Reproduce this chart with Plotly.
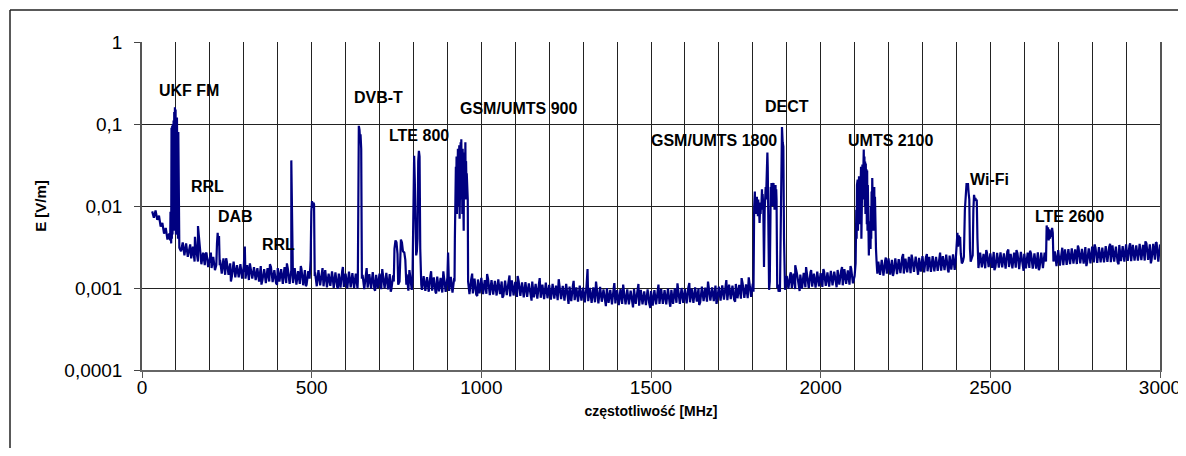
import plotly.graph_objects as go

# ---------------- DATA ----------------
# Noise floor envelope, in mV/m.
# upper edge sampled at 30, 40, ... 3000 MHz; lower edge at 35, 45, ... 2995 MHz
floor_top_mvm = [
    8.6, 8.8, 7.6, 6.2, 5.4, 4.6, 4.2, 4.0, 4.0, 3.6,
    3.5, 3.3, 3.2, 2.9, 2.9, 2.7, 2.7, 2.5, 2.4, 2.3,
    2.2, 2.3, 2.1, 2.0, 2.1, 1.9, 1.95, 1.85, 1.9, 1.8,
    1.8, 1.75, 1.85, 1.7, 1.75, 1.8, 1.65, 1.75, 1.7, 1.8,
    1.7, 1.65, 1.75, 1.6, 1.7, 1.65, 1.6, 1.7, 1.55, 1.65,
    1.55, 1.65, 1.5, 1.6, 1.55, 1.5, 1.62, 1.5, 1.58, 1.52,
    1.5, 1.55, 1.45, 1.52, 1.48, 1.56, 1.45, 1.5, 1.47, 1.53,
    1.48, 1.42, 1.5, 1.45, 1.4, 1.47, 1.43, 1.46, 1.4, 1.45,
    1.4, 1.36, 1.42, 1.35, 1.38, 1.33, 1.4, 1.35, 1.37, 1.32,
    1.3, 1.35, 1.28, 1.32, 1.26, 1.3, 1.27, 1.33, 1.25, 1.28,
    1.25, 1.22, 1.27, 1.2, 1.23, 1.18, 1.24, 1.19, 1.21, 1.17,
    1.18, 1.14, 1.2, 1.12, 1.15, 1.1, 1.16, 1.09, 1.12, 1.07,
    1.1, 1.06, 1.12, 1.04, 1.08, 1.02, 1.07, 1.01, 1.05, 1.0,
    1.02, 0.98, 1.03, 0.96, 1.0, 0.95, 0.99, 0.94, 0.97, 0.93,
    0.96, 0.93, 0.97, 0.92, 0.95, 0.91, 0.96, 0.92, 0.94, 0.95,
    0.97, 0.94, 0.98, 0.95, 0.99, 0.96, 1.0, 0.97, 1.01, 0.98,
    1.02, 0.99, 1.04, 1.01, 1.05, 1.02, 1.07, 1.04, 1.08, 1.06,
    1.1, 1.07, 1.12, 1.09, 1.14, 1.11, 1.16, 1.13, 1.17, 1.15,
    1.3, 1.3, 1.3, 1.3, 1.3, 1.3, 1.3, 1.4, 1.45, 1.5,
    1.5, 1.46, 1.53, 1.48, 1.56, 1.5, 1.58, 1.52, 1.6, 1.55,
    1.62, 1.58, 1.66, 1.6, 1.7, 1.64, 1.72, 1.7, 1.75, 1.75,
    2.0, 2.0, 2.0, 2.0, 2.1, 2.2, 2.15, 2.3, 2.2, 2.3,
    2.25, 2.35, 2.28, 2.4, 2.3, 2.42, 2.33, 2.45, 2.36, 2.4,
    2.45, 2.4, 2.5, 2.45, 2.55, 2.48, 2.58, 2.5, 2.6, 2.6,
    2.6, 2.6, 2.6, 2.6, 2.7, 2.6, 2.72, 2.65, 2.75, 2.68,
    2.72, 2.65, 2.78, 2.6, 2.7, 2.66, 2.75, 2.62, 2.7, 2.64,
    2.65, 2.72, 2.7, 2.7, 2.7, 2.7, 2.8, 2.9, 2.85, 2.95,
    2.98, 3.05, 2.95, 3.1, 3.0, 3.15, 3.05, 3.2, 3.1, 3.15,
    3.1, 3.25, 3.15, 3.3, 3.2, 3.35, 3.25, 3.4, 3.3, 3.35,
    3.3, 3.45, 3.35, 3.5, 3.4, 3.45, 3.55, 3.4,
]
floor_bot_mvm = [
    7.2, 6.8, 5.6, 4.6, 3.9, 3.4, 3.1, 2.9, 2.8, 2.5,
    2.4, 2.3, 2.1, 2.1, 1.95, 1.9, 1.8, 1.75, 1.65, 1.6,
    1.5, 1.45, 1.45, 1.4, 1.35, 1.35, 1.3, 1.3, 1.25, 1.3,
    1.25, 1.2, 1.25, 1.15, 1.2, 1.18, 1.15, 1.2, 1.12, 1.15,
    1.12, 1.15, 1.1, 1.12, 1.08, 1.1, 1.06, 1.1, 1.05, 1.08,
    1.05, 1.02, 1.06, 1.0, 1.04, 1.01, 1.03, 0.99, 1.02, 1.0,
    0.99, 1.0, 0.97, 1.01, 0.98, 0.96, 1.0, 0.97, 0.99, 0.96,
    0.97, 0.95, 0.98, 0.94, 0.96, 0.93, 0.95, 0.94, 0.92, 0.95,
    0.92, 0.9, 0.93, 0.89, 0.91, 0.88, 0.9, 0.92, 0.88, 0.9,
    0.87, 0.85, 0.88, 0.84, 0.86, 0.83, 0.86, 0.84, 0.85, 0.82,
    0.83, 0.81, 0.84, 0.8, 0.82, 0.79, 0.81, 0.78, 0.8, 0.77,
    0.78, 0.76, 0.77, 0.74, 0.76, 0.73, 0.75, 0.72, 0.74, 0.71,
    0.73, 0.7, 0.72, 0.69, 0.71, 0.68, 0.7, 0.67, 0.69, 0.66,
    0.67, 0.65, 0.68, 0.64, 0.66, 0.63, 0.65, 0.62, 0.64, 0.63,
    0.63, 0.62, 0.64, 0.61, 0.63, 0.62, 0.64, 0.61, 0.63, 0.64,
    0.64, 0.63, 0.65, 0.64, 0.66, 0.64, 0.66, 0.65, 0.67, 0.66,
    0.68, 0.67, 0.69, 0.68, 0.7, 0.69, 0.71, 0.7, 0.72, 0.71,
    0.73, 0.72, 0.75, 0.74, 0.76, 0.75, 0.78, 0.77, 0.79, 0.78,
    0.9, 0.9, 0.9, 0.9, 0.9, 0.9, 0.95, 0.98, 1.0, 0.97,
    1.0, 0.98, 1.02, 1.0, 1.04, 1.01, 1.05, 1.03, 1.06, 1.04,
    1.08, 1.06, 1.1, 1.08, 1.12, 1.1, 1.14, 1.12, 1.15, 1.15,
    1.4, 1.4, 1.4, 1.4, 1.45, 1.42, 1.5, 1.46, 1.52, 1.48,
    1.52, 1.5, 1.55, 1.52, 1.57, 1.54, 1.58, 1.55, 1.6, 1.57,
    1.6, 1.62, 1.63, 1.65, 1.64, 1.67, 1.66, 1.7, 1.7, 1.7,
    1.75, 1.75, 1.75, 1.75, 1.78, 1.74, 1.8, 1.76, 1.79, 1.77,
    1.78, 1.72, 1.8, 1.74, 1.77, 1.7, 1.78, 1.73, 1.76, 1.72,
    1.72, 1.75, 1.75, 1.75, 1.8, 1.8, 1.85, 1.88, 1.9, 1.92,
    1.95, 1.98, 1.96, 2.0, 1.98, 2.02, 2.0, 2.05, 2.02, 2.06,
    2.05, 2.08, 2.06, 2.1, 2.08, 2.12, 2.1, 2.14, 2.12, 2.15,
    2.15, 2.18, 2.16, 2.2, 2.18, 2.22, 2.1,
]

# irregular excursions of the noise floor (MHz, mV/m)
jitter_f = [142, 187, 248, 262, 318, 352, 377, 398, 468, 483, 532, 577, 592, 662,
            687, 708, 733, 788, 852, 867, 888, 973, 988, 1017, 1062, 1083, 1107,
            1148, 1172, 1228, 1257, 1272, 1338, 1367, 1392, 1418, 1447, 1463, 1498,
            1522, 1557, 1578, 1613, 1642, 1668, 1693, 1722, 1748, 1767, 1788, 1912,
            1938, 1972, 2008, 2047, 2063, 2088, 2192, 2213, 2268, 2287, 2313, 2352,
            2377, 2488, 2512, 2553, 2598, 2617, 2643, 2712, 2758, 2783, 2807, 2853,
            2878, 2912, 2957, 2973, 2988]
jitter_mvm = [3.4, 2.6, 2.3, 1.2, 2.0, 1.1, 1.95, 1.1, 1.85, 1.05, 1.75, 0.98, 1.8,
              1.75, 0.93, 1.7, 0.9, 1.65, 1.6, 0.86, 1.6, 1.5, 0.8, 1.48, 0.76, 1.42,
              1.4, 0.7, 1.32, 1.28, 0.64, 1.22, 1.2, 0.6, 1.15, 1.1, 0.58, 1.12, 0.57,
              1.1, 0.59, 1.14, 1.15, 0.62, 1.2, 0.64, 1.25, 0.68, 1.32, 1.35, 1.55,
              0.92, 1.65, 1.7, 1.02, 1.8, 1.85, 2.35, 1.4, 2.55, 1.45, 2.6, 2.7, 1.55,
              2.9, 1.65, 2.95, 1.62, 2.85, 1.65, 3.1, 3.3, 1.85, 3.4, 3.45, 1.95, 3.5,
              3.7, 2.0, 3.6]

# single narrow spikes (MHz, V/m)
spike_f = [156, 165, 203, 303, 427, 440, 902, 1313, 1925, 1957, 2243, 2577]
spike_v = [0.0042, 0.0057, 0.0027, 0.0032, 0.0020, 0.036, 0.0027, 0.0017, 0.0019,
           0.0018, 0.0026, 0.0029]

# band blocks (freq MHz, E V/m)
fm_f = [83, 84, 85, 86, 87, 88, 89, 90, 91, 92, 93, 94, 95, 96, 97, 98, 99, 100,
        101, 102, 103, 104, 105, 106, 107, 108, 109, 110]
fm_v = [0.0038, 0.0085, 0.0036, 0.0035, 0.09, 0.004, 0.095, 0.0045, 0.10, 0.005,
        0.11, 0.006, 0.14, 0.005, 0.16, 0.006, 0.15, 0.0045, 0.14, 0.005, 0.12,
        0.0045, 0.11, 0.004, 0.08, 0.0035, 0.0036, 0.0031]

dab_f = [219, 221, 223, 225, 227, 229]
dab_v = [0.0019, 0.0035, 0.0047, 0.0033, 0.0043, 0.0019]

b500_f = [494, 497, 499, 501, 503, 505, 507, 509]
b500_v = [0.0013, 0.0022, 0.0085, 0.0115, 0.0095, 0.011, 0.0105, 0.0014]

dvbt_f = [636, 639, 641, 643, 644, 646, 648]
dvbt_v = [0.0012, 0.095, 0.085, 0.06, 0.075, 0.05, 0.0013]

b750_f = [742, 744, 747, 750, 753, 755, 759, 761, 763, 766, 769, 773, 776, 779]
b750_v = [0.0012, 0.003, 0.0038, 0.0036, 0.0026, 0.0011, 0.0012, 0.0034, 0.0039,
          0.0036, 0.0028, 0.0027, 0.0022, 0.0011]

lte800_f = [797, 800, 802, 804, 806, 808, 810, 812, 814, 816, 818, 820, 823]
lte800_v = [0.0012, 0.03, 0.041, 0.02, 0.003, 0.0025, 0.0028, 0.004, 0.035, 0.047,
            0.04, 0.003, 0.0011]

gsm900_f = [921, 922, 923, 924, 925, 926, 927, 928, 929, 930, 931, 932, 933, 934,
            935, 936, 937, 938, 939, 940, 941, 942, 943, 944, 945, 946, 947, 948,
            949, 950, 951, 952, 953, 954, 955, 956, 957, 958, 959, 960, 961]
gsm900_v = [0.0012, 0.004, 0.025, 0.006, 0.03, 0.015, 0.04, 0.008, 0.035, 0.012,
            0.05, 0.01, 0.045, 0.02, 0.055, 0.007, 0.04, 0.015, 0.06, 0.012, 0.065,
            0.02, 0.035, 0.008, 0.05, 0.006, 0.03, 0.005, 0.045, 0.015, 0.04, 0.02,
            0.06, 0.012, 0.035, 0.02, 0.025, 0.015, 0.02, 0.012, 0.0012]

gsm1800_f = [1802, 1804, 1806, 1807, 1808, 1809, 1810, 1811, 1812, 1813, 1814, 1815,
             1816, 1817, 1818, 1820, 1822, 1823, 1824, 1825, 1827, 1828, 1829, 1831,
             1833, 1835, 1836, 1837, 1838, 1839, 1840, 1841, 1843, 1844, 1845, 1846,
             1848, 1850, 1852, 1853, 1854, 1855, 1856, 1857, 1858, 1859, 1860, 1861,
             1862, 1863, 1864, 1865, 1866, 1867, 1868, 1869, 1870, 1872, 1874, 1876,
             1878, 1880, 1882, 1884, 1886, 1888, 1890, 1892, 1894]
gsm1800_v = [0.0009, 0.0095, 0.015, 0.009, 0.012, 0.008, 0.011, 0.0085, 0.013, 0.009,
             0.011, 0.0075, 0.012, 0.009, 0.010, 0.0062, 0.011, 0.008, 0.0105, 0.009,
             0.016, 0.010, 0.014, 0.0095, 0.0018, 0.009, 0.015, 0.011, 0.017, 0.012,
             0.020, 0.013, 0.045, 0.030, 0.015, 0.011, 0.00095, 0.0012, 0.012, 0.017,
             0.011, 0.019, 0.012, 0.016, 0.010, 0.018, 0.013, 0.019, 0.011, 0.015,
             0.009, 0.017, 0.012, 0.018, 0.010, 0.016, 0.012, 0.0010, 0.0011, 0.0009,
             0.0010, 0.0009, 0.004, 0.030, 0.092, 0.060, 0.053, 0.004, 0.0011]

umts2100_f = [2100, 2103, 2105, 2106, 2107, 2108, 2109, 2110, 2111, 2112, 2113, 2114,
              2115, 2116, 2117, 2118, 2119, 2120, 2121, 2122, 2123, 2124, 2125, 2126,
              2127, 2128, 2129, 2130, 2131, 2132, 2133, 2134, 2135, 2136, 2137, 2138,
              2139, 2140, 2141, 2142, 2143, 2145, 2146, 2147, 2148, 2149, 2150, 2151,
              2152, 2153, 2154, 2155, 2156, 2157, 2158, 2159, 2160, 2161, 2162, 2163,
              2165, 2167]
umts2100_v = [0.0014, 0.002, 0.009, 0.004, 0.018, 0.008, 0.021, 0.005, 0.015, 0.009,
              0.023, 0.006, 0.020, 0.010, 0.028, 0.012, 0.030, 0.004, 0.025, 0.010,
              0.032, 0.012, 0.038, 0.015, 0.049, 0.020, 0.040, 0.010, 0.035, 0.008,
              0.033, 0.012, 0.028, 0.006, 0.027, 0.005, 0.018, 0.003, 0.008, 0.0025,
              0.0062, 0.004, 0.0065, 0.003, 0.010, 0.004, 0.015, 0.006, 0.022, 0.008,
              0.020, 0.005, 0.016, 0.007, 0.017, 0.005, 0.013, 0.004, 0.013, 0.003,
              0.002, 0.0015]

wifi_f = [2398, 2401, 2403, 2405, 2407, 2409, 2411, 2413, 2416, 2419, 2422, 2425, 2428,
          2430, 2432, 2434, 2436, 2438, 2440, 2442, 2445, 2448, 2450, 2452, 2454, 2456,
          2458, 2460, 2462, 2464]
wifi_v = [0.0022, 0.0038, 0.0047, 0.0032, 0.0044, 0.0035, 0.0042, 0.0026, 0.0020,
          0.0021, 0.0024, 0.009, 0.015, 0.019, 0.017, 0.019, 0.0144, 0.012, 0.003,
          0.0021, 0.0023, 0.0025, 0.009, 0.0137, 0.012, 0.0125, 0.0115, 0.012, 0.004,
          0.0021]

lte2600_f = [2664, 2666, 2668, 2670, 2672, 2674, 2676, 2678, 2680, 2682, 2684, 2686]
lte2600_v = [0.0021, 0.0058, 0.0045, 0.0055, 0.0038, 0.0052, 0.004, 0.005, 0.0042,
             0.0054, 0.0047, 0.0021]

band_labels = ["UKF FM", "RRL", "DAB", "RRL", "DVB-T", "LTE 800", "GSM/UMTS 900",
               "GSM/UMTS 1800", "DECT", "UMTS 2100", "Wi-Fi", "LTE 2600"]

y_tickvals = [0.0001, 0.001, 0.01, 0.1, 1]
y_ticktext = ["0,0001", "0,001", "0,01", "0,1", "1"]
x_tickvals = [0, 500, 1000, 1500, 2000, 2500, 3000]

# ---------------- BUILD SERIES ----------------
floor_pts = [(30 + 10 * i, v / 1000.0) for i, v in enumerate(floor_top_mvm)]
floor_pts += [(35 + 10 * i, v / 1000.0) for i, v in enumerate(floor_bot_mvm)]
floor_pts += [(f, v / 1000.0) for f, v in zip(jitter_f, jitter_mvm)]
blocks = [(fm_f, fm_v), (dab_f, dab_v), (b500_f, b500_v), (dvbt_f, dvbt_v),
          (b750_f, b750_v), (lte800_f, lte800_v), (gsm900_f, gsm900_v),
          (gsm1800_f, gsm1800_v), (umts2100_f, umts2100_v), (wifi_f, wifi_v),
          (lte2600_f, lte2600_v)]
spans = [(min(f), max(f)) for f, _ in blocks]
pts = [(f, v) for f, v in floor_pts if not any(a <= f <= b for a, b in spans)]
for f, v in blocks:
    pts += list(zip(f, v))
pts += list(zip(spike_f, spike_v))
pts.sort(key=lambda p: p[0])
xs = [p[0] for p in pts]
ys = [p[1] for p in pts]

# ---------------- LAYOUT (page pixels -> paper) ----------------
OFF = 8                      # browser body margin
W, H = 1186, 456
L, R, T, B = 142, 1160, 42, 370   # plot area in page pixels
FIG_W, FIG_H = W - OFF, H - 2 * OFF


def pxx(x):
    return (x - L) / (R - L)


def pxy(y):
    return (B - y) / (B - T)


FONT = "Liberation Sans, Arial, sans-serif"

fig = go.Figure()
fig.add_trace(go.Scatter(x=xs, y=ys, mode="lines",
                         line=dict(color="#000080", width=2.2),
                         showlegend=False, hoverinfo="x+y"))

label_pos = [(189, 89), (207, 186), (235, 216), (278, 243), (378, 96), (419, 134),
             (518, 108), (714, 139), (787, 106), (890, 139), (989, 178), (1069, 215)]
for txt, (px_, py_) in zip(band_labels, label_pos):
    fig.add_annotation(text="<b>%s</b>" % txt, xref="paper", yref="paper",
                       x=pxx(px_), y=pxy(py_ + 1), showarrow=False,
                       xanchor="center", yanchor="middle",
                       font=dict(family=FONT, size=16, color="#000"))

# outer chart frame (left and top edges visible)
fig.add_shape(type="line", xref="paper", yref="paper",
              x0=pxx(10), x1=pxx(10), y0=pxy(10), y1=pxy(OFF + FIG_H + 5),
              line=dict(color="#222", width=1.5))
fig.add_shape(type="line", xref="paper", yref="paper",
              x0=pxx(10), x1=pxx(OFF + FIG_W + 5), y0=pxy(10), y1=pxy(10),
              line=dict(color="#222", width=1.5))

fig.update_layout(
    width=FIG_W, height=FIG_H,
    margin=dict(l=L - OFF, r=OFF + FIG_W - R, t=T - OFF, b=OFF + FIG_H - B, pad=0,
                autoexpand=False),
    paper_bgcolor="white", plot_bgcolor="white",
    font=dict(family=FONT, color="#000"),
    xaxis=dict(range=[0, 3000], tickvals=x_tickvals, ticks="outside", ticklen=6,
               tickcolor="#555", tickwidth=1, tickfont=dict(size=19),
               ticklabelstandoff=-7, ticklabeloverflow="allow", automargin=False,
               showgrid=True, gridcolor="#222", gridwidth=1,
               minor=dict(dtick=100, tick0=0, showgrid=True, gridcolor="#222",
                          gridwidth=1, ticks=""),
               showline=True, linecolor="#666", linewidth=2, zeroline=False,
               title=dict(text="<b>częstotliwość [MHz]</b>",
                          font=dict(size=14), standoff=9)),
    yaxis=dict(type="log", range=[-4, 0], tickvals=y_tickvals, ticktext=y_ticktext,
               ticks="outside", ticklen=6, tickcolor="#444", tickfont=dict(size=19),
               ticklabelstandoff=8, automargin=False,
               showgrid=True, gridcolor="#222", gridwidth=1,
               showline=True, linecolor="#555", linewidth=1.5, mirror=True,
               zeroline=False,
               title=dict(text="<b>E [V/m]</b>", font=dict(size=15), standoff=14)),
)

fig.write_html("out.html")
